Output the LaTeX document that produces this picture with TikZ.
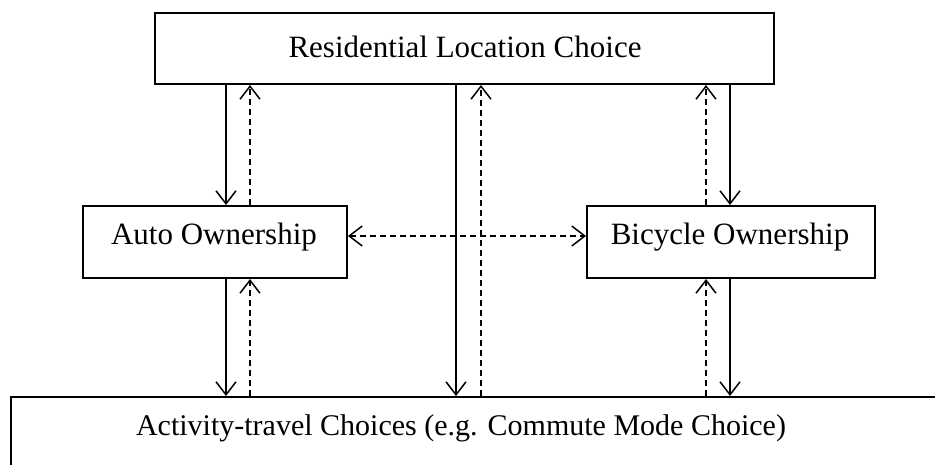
\documentclass[tikz,border=0pt]{standalone}
\usepackage{fontspec}
\setmainfont{Liberation Serif}
\usetikzlibrary{arrows.meta}
\begin{document}
\begin{tikzpicture}[x=1pt,y=-1pt,
  box/.style={draw, line width=2pt, inner sep=0pt, anchor=north west},
  lbl/.style={font=\fontsize{31}{36}\selectfont, inner sep=0pt},
  barb/.tip={Straight Barb[length=13pt,width=20pt,line width=1.5pt]},
  solidarr/.style={line width=1.5pt, -barb},
  dasharr/.style={line width=1.5pt, dash pattern=on 6pt off 4pt, -barb},
  dashboth/.style={line width=1.5pt, dash pattern=on 6pt off 4pt, barb-barb}]
\useasboundingbox (0,0) rectangle (935,464);
\clip (0,0) rectangle (935,464);
% boxes
\node[box, minimum width=619pt, minimum height=71pt] (res) at (154,12) {};
\node[box, minimum width=264pt, minimum height=72pt] (auto) at (82,205) {};
\node[box, minimum width=288pt, minimum height=72pt] (bike) at (586,205) {};
\node[box, minimum width=960pt, minimum height=120pt] (act) at (10,396) {};
% labels
\node[lbl] (tres) at (465,47) {Residential Location Choice};
\node[lbl] (tauto) at (214,237) {Auto Ownership};
\node[lbl] (tbike) at (730,237) {Bicycle Ownership};
\node[lbl, font=\fontsize{30}{35}\selectfont] (tact) at (461,428) {Activity-travel Choices (e.g. Commute Mode Choice)};
% connectors
\draw[solidarr] (res.south -| 226,0) -- (auto.north -| 226,0);
\draw[dasharr] (auto.north -| 250,0) -- (res.south -| 250,0);
\draw[solidarr] (res.south -| 456,0) -- (act.north -| 456,0);
\draw[dasharr] (act.north -| 481,0) -- (res.south -| 481,0);
\draw[dasharr] (bike.north -| 706,0) -- (res.south -| 706,0);
\draw[solidarr] (res.south -| 730,0) -- (bike.north -| 730,0);
\draw[solidarr] (auto.south -| 226,0) -- (act.north -| 226,0);
\draw[dasharr] (act.north -| 250,0) -- (auto.south -| 250,0);
\draw[dasharr] (act.north -| 706,0) -- (bike.south -| 706,0);
\draw[solidarr] (bike.south -| 730,0) -- (act.north -| 730,0);
\draw[dashboth] (auto.east |- 0,236) -- (bike.west |- 0,236);
\end{tikzpicture}
\end{document}
